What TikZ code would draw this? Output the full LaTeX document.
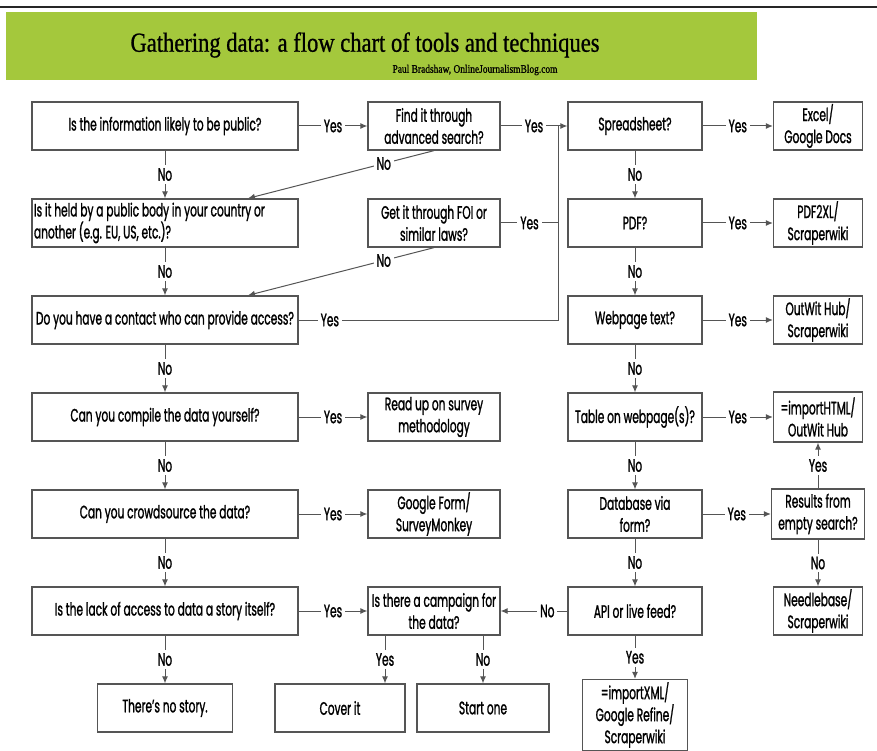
\documentclass[tikz,border=0pt]{standalone}
\usepackage{fontspec}
\usepackage{xcolor}
\setmainfont{Poppins}[FakeStretch=0.59, FakeBold=1.2]
\newfontfamily\titlefont{Liberation Serif}[FakeStretch=0.82, FakeBold=0.8]
\usetikzlibrary{arrows.meta, calc}
\definecolor{headgreen}{RGB}{164,200,60}
\definecolor{linegray}{RGB}{85,85,85}
\tikzstyle{box} = [rectangle, draw=linegray, line width=1.3pt, minimum height=48, text centered, align=center, inner sep=1pt]
\tikzstyle{widebox} = [box, minimum width=266]
\tikzstyle{midbox} = [box, minimum width=132]
\tikzstyle{smallbox} = [box, minimum width=89]
\tikzstyle{lbl} = [fill=white, inner sep=3pt]
\tikzstyle{arrow} = [line width=1pt, draw=linegray, ->, >={Latex[length=7pt,width=6pt]}]
\begin{document}
\begin{tikzpicture}[x=1pt, y=-1pt, node distance=97, font=\fontsize{18}{22}\selectfont]
    \useasboundingbox (0,0) rectangle (877,751);
    % header
    \draw [line width=2.5pt, black!85] (0,7) -- (877,7);
    \fill [headgreen] (6,12) rectangle (757,80);
    \node (title) at (365,45) {\titlefont\fontsize{27.5}{31}\selectfont Gathering data: a flow chart of tools and techniques};
    \node (sub) [anchor=east] at (561,70) {\titlefont\fontsize{11.5}{13}\selectfont Paul Bradshaw, OnlineJournalismBlog.com};

    % left column
    \node (1) [widebox] at (165,126) {Is the information likely to be public?};
    \node (2) [widebox, below of=1, text width=262, align=flush left] {Is it held by a public body in your country or\\another (e.g. EU, US, etc.)?};
    \node (3) [widebox, below of=2] {Do you have a contact who can provide access?};
    \node (4) [widebox, below of=3] {Can you compile the data yourself?};
    \node (5) [widebox, below of=4] {Can you crowdsource the data?};
    \node (6) [widebox, below of=5] {Is the lack of access to data a story itself?};
    \node (7) [box, minimum width=135, below of=6] {There’s no story.};

    % middle column
    \node (8) [midbox] at (434,126) {Find it through\\advanced search?};
    \node (9) [midbox, below of=8] {Get it through FOI or\\similar laws?};
    \node (10) [midbox] at (8 |- 4) {Read up on survey\\methodology};
    \node (11) [midbox] at (8 |- 5) {Google Form/\\SurveyMonkey};
    \node (12) [midbox] at (8 |- 6) {Is there a campaign for\\the data?};
    \node (13) [box, minimum width=130] at ($(7)+(175,0)$) {Cover it};
    \node (14) [midbox] at ($(7)+(318,0)$) {Start one};

    % file types
    \node (15) [box, minimum width=134] at (635,126) {Spreadsheet?};
    \node (16) [box, minimum width=134, below of=15] {PDF?};
    \node (17) [box, minimum width=134, below of=16] {Webpage text?};
    \node (18) [box, minimum width=134, below of=17] {Table on webpage(s)?};
    \node (19) [box, minimum width=134, below of=18] {Database via\\form?};
    \node (20) [box, minimum width=134, below of=19] {API or live feed?};
    \node (21) [box, minimum width=105, minimum height=71] at (635,715) {=importXML/\\Google Refine/\\Scraperwiki};

    % tools
    \node (22) [smallbox] at (818,126) {Excel/\\Google Docs};
    \node (23) [smallbox] at (22 |- 16) {PDF2XL/\\Scraperwiki};
    \node (24) [smallbox] at (22 |- 17) {OutWit Hub/\\Scraperwiki};
    \node (25) [smallbox, minimum height=50] at (22 |- 18) {=importHTML/\\OutWit Hub};
    \node (26) [smallbox, minimum width=93, minimum height=50] at (22 |- 19) {Results from\\empty search?};
    \node (27) [smallbox] at (22 |- 20) {Needlebase/\\Scraperwiki};

    \coordinate (j) at ([xshift=-9]15.west);
    \coordinate (c1) at ([xshift=-49]12.south);
    \coordinate (c2) at ([xshift=49]12.south);

    \draw [arrow] (1) -- node[lbl] {Yes} (8);
    \draw [arrow] (8) -- node[lbl] {Yes} (15);
    \draw [arrow, -] (9) -- node[lbl] {Yes} (9 -| j);
    \draw [arrow, -] (3) -- node[lbl, pos=0.12] {Yes} (3 -| j) -- (j);
    \draw [arrow] (8.south) -- node[lbl, pos=0.27] {No} ([xshift=83]2.north);
    \draw [arrow] (9.south) -- node[lbl, pos=0.27] {No} ([xshift=83]3.north);
    \draw [arrow] (1) -- node[lbl] {No} (2);
    \draw [arrow] (2) -- node[lbl] {No} (3);
    \draw [arrow] (3) -- node[lbl] {No} (4);
    \draw [arrow] (4) -- node[lbl] {No} (5);
    \draw [arrow] (5) -- node[lbl] {No} (6);
    \draw [arrow] (6) -- node[lbl] {No} (7);
    \draw [arrow] (4) -- node[lbl] {Yes} (10);
    \draw [arrow] (5) -- node[lbl] {Yes} (11);
    \draw [arrow] (6) -- node[lbl] {Yes} (12);
    \draw [arrow] (c1) -- node[lbl] {Yes} (c1 |- 13.north);
    \draw [arrow] (c2) -- node[lbl] {No} (c2 |- 14.north);
    \draw [arrow] (15) -- node[lbl] {No} (16);
    \draw [arrow] (16) -- node[lbl] {No} (17);
    \draw [arrow] (17) -- node[lbl] {No} (18);
    \draw [arrow] (18) -- node[lbl] {No} (19);
    \draw [arrow] (19) -- node[lbl] {No} (20);
    \draw [arrow] (20) -- node[lbl, pos=0.3] {No} (12);
    \draw [arrow] (20) -- node[lbl] {Yes} (21);
    \draw [arrow] (15) -- node[lbl] {Yes} (22);
    \draw [arrow] (16) -- node[lbl] {Yes} (23);
    \draw [arrow] (17) -- node[lbl] {Yes} (24);
    \draw [arrow] (18) -- node[lbl] {Yes} (25);
    \draw [arrow] (19) -- node[lbl] {Yes} (26);
    \draw [arrow] (26) -- node[lbl] {Yes} (25);
    \draw [arrow] (26) -- node[lbl] {No} (27);
\end{tikzpicture}
\end{document}
